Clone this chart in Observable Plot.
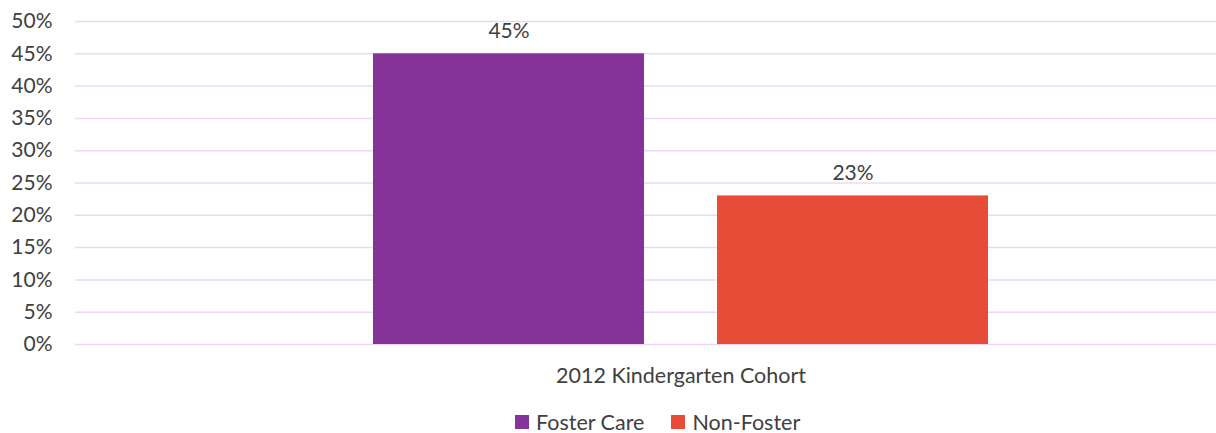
<!DOCTYPE html>
<html>
<head>
<meta charset="utf-8">
<script src="https://cdn.jsdelivr.net/npm/d3@7"></script>
<script src="https://cdn.jsdelivr.net/npm/@observablehq/plot@0.6"></script>
<style>
  html, body { margin: 0; padding: 0; background: #fff; overflow: hidden; width: 1216px; height: 433px; }
  #chart { width: 1216px; height: 395px; overflow: hidden; }
  #chart svg { max-width: none !important; width: 1286px !important; height: 395px !important; display: block; }
  #legend { display: flex; align-items: center; margin-left: 515px; margin-top: 14px; font-family: Lato, sans-serif; font-size: 21.5px; color: #404040; }
  .sw { display: inline-block; width: 14px; height: 14px; margin-right: 7px; }
  .item { display: inline-flex; align-items: center; margin-right: 27px; }
</style>
</head>
<body>
<div id="chart"></div>
<div id="legend"></div>
<script>
const category = "2012 Kindergarten Cohort";
const series = ["Foster Care", "Non-Foster"];
const values = [45, 23];
const colors = ["#863399", "#e64c38"];
const yTicks = [0, 5, 10, 15, 20, 25, 30, 35, 40, 45, 50];

const data = series.map((s, i) => ({series: s, value: values[i]}));

const plot = Plot.plot({
  width: 1286,
  height: 395,
  marginLeft: 75,
  marginRight: 0,
  marginTop: 21,
  marginBottom: 51,
  style: {fontFamily: "Lato, sans-serif", fontSize: "21px", color: "#404040", background: "#fff"},
  x: {domain: series, paddingInner: 0.2116, paddingOuter: 0.861, axis: null},
  y: {domain: [0, 50], ticks: yTicks, tickFormat: d => d + "%", tickSize: 0, tickPadding: 23, label: null},
  color: {domain: series, range: colors},
  marks: [
    Plot.ruleY(yTicks, {stroke: "#ecd8f2", strokeWidth: 1.5}),
    Plot.barY(data, {x: "series", y: "value", fill: "series"}),
    Plot.text(data, {x: "series", y: "value", text: d => d.value + "%", lineAnchor: "bottom", dy: -16, fill: "#404040"}),
    Plot.text([category], {frameAnchor: "bottom", text: d => d, lineAnchor: "top", dy: 23, fill: "#404040", fontSize: 21.5})
  ]
});
document.getElementById("chart").appendChild(plot);

const legend = document.getElementById("legend");
series.forEach((s, i) => {
  const item = document.createElement("span");
  item.className = "item";
  const sw = document.createElement("span");
  sw.className = "sw";
  sw.style.background = colors[i];
  item.appendChild(sw);
  item.appendChild(document.createTextNode(s));
  legend.appendChild(item);
});
</script>
</body>
</html>
